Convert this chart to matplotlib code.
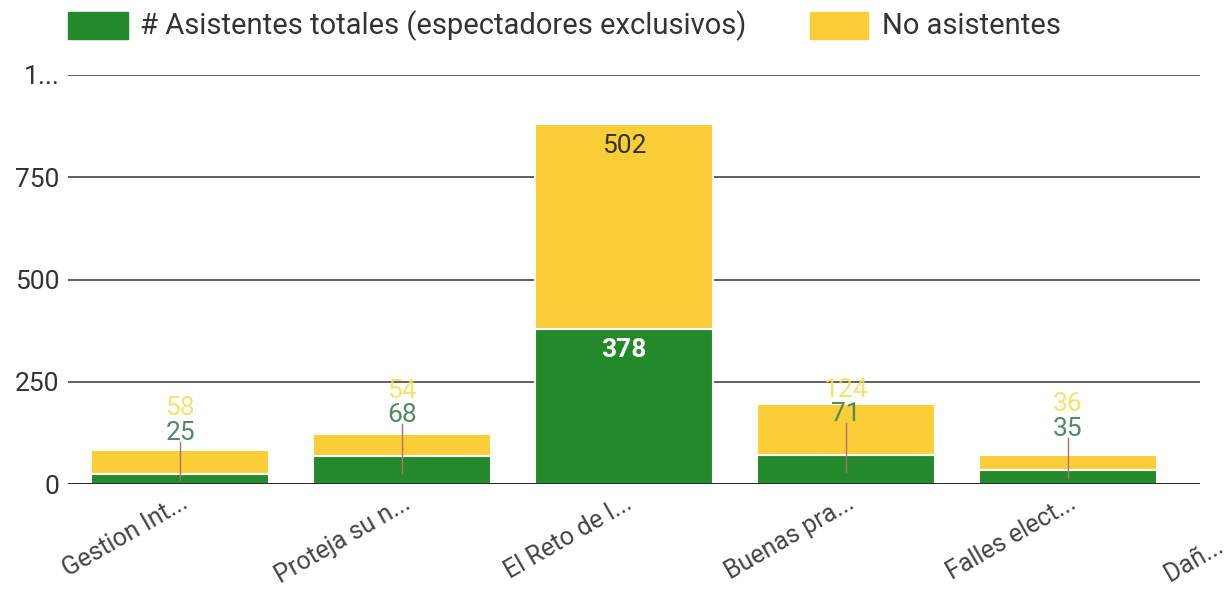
import matplotlib.pyplot as plt
from matplotlib.patches import Rectangle
import matplotlib.transforms as mtransforms
import numpy as np

plt.rcParams['font.family'] = ['Roboto', 'DejaVu Sans']

# --- Daten ---
categorias = ["Gestion Int...", "Proteja su n...", "El Reto de l...", "Buenas pra...", "Falles elect..."]
categoria_extra = "Dañ..."
asistentes = [25, 68, 378, 71, 35]
no_asistentes = [58, 54, 502, 124, 36]
y_ticks = [0, 250, 500, 750, 1000]
y_labels = ["0", "250", "500", "750", "1..."]
serie_nombres = ['# Asistentes totales (espectadores exclusivos)', 'No asistentes']

verde = '#23892b'
amarillo = '#fbcd36'
W, H = 1228, 595

fig = plt.figure(figsize=(W / 100, H / 100), dpi=100)
ax = fig.add_axes([68 / W, 1 - 484 / H, (1200 - 68) / W, (484 - 75) / H])

x = np.arange(len(categorias))
ax.bar(x, asistentes, width=0.8, color=verde, edgecolor='white', linewidth=1.5, zorder=3)
ax.bar(x, no_asistentes, width=0.8, bottom=asistentes, color=amarillo, edgecolor='white',
       linewidth=1.5, zorder=3)

# Etiquetas de valores
for i in range(len(categorias)):
    a = asistentes[i]
    n = no_asistentes[i]
    total = a + n
    if total > 300:
        ax.text(i, a - 50, str(a), ha='center', va='center', color='white',
                fontsize=19, fontweight='bold', zorder=5)
        ax.text(i, total - 53, str(n), ha='center', va='center', color='#333333',
                fontsize=19, zorder=5)
    else:
        y_green = a + 100
        ax.plot([i, i], [a * 0.4, y_green - 22], color='#b07070', linewidth=1, zorder=4)
        ax.text(i, y_green, str(a), ha='center', va='center', color='#4e8a5c',
                fontsize=19, zorder=5)
        ax.text(i, y_green + 60, str(n), ha='center', va='center', color='#f2df55',
                fontsize=19, zorder=5, alpha=0.85)

ax.set_xlim(-0.505, 4.595)
ax.set_ylim(0, 1000)
ax.set_yticks(y_ticks)
ax.set_yticklabels(y_labels, fontsize=19, color='#333333')
ax.set_xticks(x)
ax.set_xticklabels(categorias, rotation=30, ha='right', rotation_mode='anchor',
                   fontsize=18, color='#444444')
offset = mtransforms.ScaledTranslation(0.27, 0, fig.dpi_scale_trans)
for lbl in ax.get_xticklabels():
    lbl.set_transform(lbl.get_transform() + offset)
ax.tick_params(axis='y', length=0, pad=6)
ax.tick_params(axis='x', length=0, pad=5)
fig.text(1170 / W, 1 - 582 / H, categoria_extra, rotation=30, ha='left', va='baseline',
         rotation_mode='anchor', fontsize=18, color='#444444')

for yt in y_ticks[1:]:
    ax.axhline(yt, color='#444444', linewidth=1.2, zorder=1)
ax.axhline(0, color='#111111', linewidth=2, zorder=4)
for s in ax.spines.values():
    s.set_visible(False)

# Legende
fig.add_artist(Rectangle((68 / W, 1 - 39 / H), 60 / W, 27 / H, transform=fig.transFigure,
                         color=verde))
fig.text(140 / W, 1 - 26 / H, serie_nombres[0], ha='left', va='center', fontsize=21,
         color='#333333')
fig.add_artist(Rectangle((810 / W, 1 - 39 / H), 58 / W, 27 / H, transform=fig.transFigure,
                         color=amarillo))
fig.text(882 / W, 1 - 26 / H, serie_nombres[1], ha='left', va='center', fontsize=21,
         color='#333333')

plt.savefig('out.png', dpi=100)
